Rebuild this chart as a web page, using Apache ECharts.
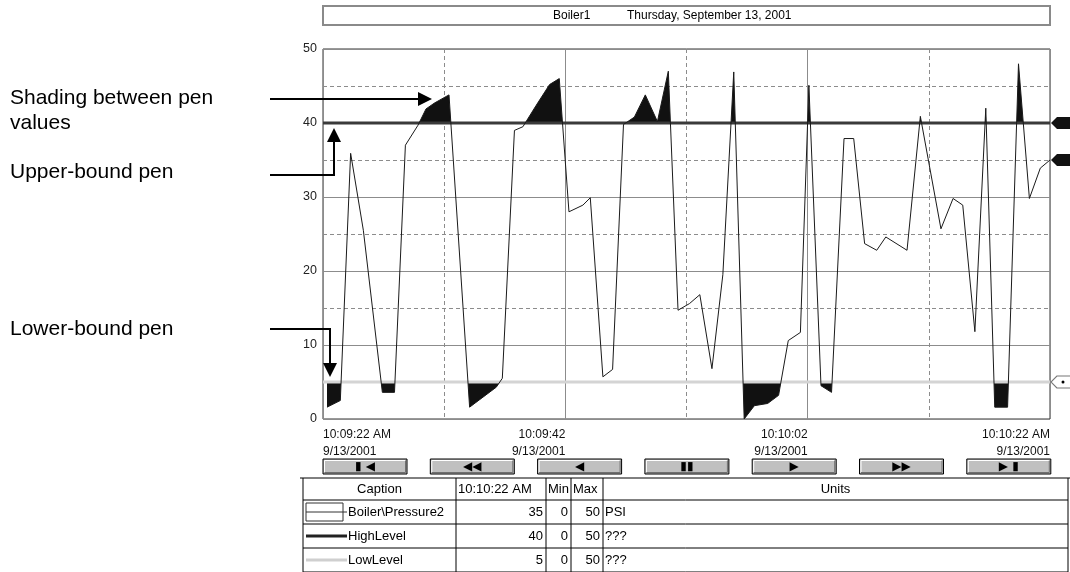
<!DOCTYPE html>
<html>
<head>
<meta charset="utf-8">
<title>Boiler1 trend</title>
<script src="https://cdn.jsdelivr.net/npm/echarts@6/dist/echarts.min.js"></script>
<style>
  html, body { margin: 0; padding: 0; background: #fff; }
  #chart { width: 1070px; height: 572px; }
</style>
</head>
<body>
<div id="chart"></div>
<script>
// seconds after 10:09:22 AM, and the Boiler\Pressure2 pen values
const sampleSeconds = [0.33, 1.43, 2.28, 3.33, 4.9, 5.9, 6.8, 7.84, 8.5, 9.2, 10.4, 12.1, 14.3, 14.8, 15.8,
    16.5, 17.6, 18.7, 19.5, 20.3, 21.45, 22.06, 23.1, 23.9, 24.8, 25.7, 26.6, 27.6, 28.5, 29.3,
    30.25, 31.1, 32.1, 33.0, 33.9, 34.76, 35.6, 36.7, 37.6, 38.4, 39.4, 40.1, 41.1, 41.97, 43.0,
    43.8, 44.7, 45.7, 46.45, 48.2, 49.3, 51.0, 52.0, 52.8, 53.8, 54.7, 55.44, 56.5, 57.4, 58.3, 59.2, 60.0];
const pressure = [1.6, 2.5, 35.9, 25.5, 3.6, 3.6, 37.0, 39.7, 41.9, 42.7, 43.8, 1.6, 4.3, 5.5, 39.0,
    39.5, 42.4, 45.2, 46.0, 28.0, 28.9, 29.9, 5.7, 6.7, 39.8, 40.8, 43.8, 40.2, 47.0, 14.7,
    15.6, 16.8, 6.8, 19.5, 46.9, 0, 1.8, 2.1, 3.2, 10.6, 11.7, 45.1, 4.5, 3.6, 37.9,
    37.9, 23.7, 22.8, 24.6, 22.8, 40.9, 25.7, 29.8, 28.9, 11.8, 42.0, 1.6, 1.6, 48.0, 29.8, 33.9, 35.0];

const penSeconds = [0, 60];
const highLevel = [40, 40];
const lowLevel = [5, 5];

const xTickLabels = ['10:09:22 AM\n9/13/2001', '10:09:42\n9/13/2001', '10:10:02\n9/13/2001', '10:10:22 AM\n9/13/2001'];

// pen legend table
const penCaptions = ['Boiler\\Pressure2', 'HighLevel', 'LowLevel'];
const penNow = [35, 40, 5];
const penMin = [0, 0, 0];
const penMax = [50, 50, 50];
const penUnits = ['PSI', '???', '???'];

const buttonGlyphs = ['\u25AE \u25C0', '\u25C0\u25C0', '\u25C0', '\u25AE\u25AE', '\u25B6', '\u25B6\u25B6', '\u25B6 \u25AE'];

const FONT = "'Liberation Sans', Arial, sans-serif";
const arrowLeft = 'path://M0,6 L6,0 L20,0 L20,12 L6,12 Z';

const zip = (xs, ys) => xs.map((x, i) => [x, ys[i]]);
const pressureData = zip(sampleSeconds, pressure);

const chart = echarts.init(document.getElementById('chart'));

// ---- static decorations (title box, notes, buttons, table) ----
const graphics = [];
const txt = (x, y, text, size, align, extra) => graphics.push({
    type: 'text', x: x, y: y, silent: true,
    style: Object.assign({ text: text, font: size + 'px ' + FONT, fill: '#000',
        textAlign: align || 'left', textVerticalAlign: 'middle' }, extra || {})
});
const line = (x1, y1, x2, y2, color, w) => graphics.push({
    type: 'line', silent: true, shape: { x1: x1, y1: y1, x2: x2, y2: y2 },
    style: { stroke: color, lineWidth: w }
});

// title box
graphics.push({ type: 'rect', shape: { x: 323, y: 6, width: 727, height: 19 },
    style: { fill: '#fff', stroke: '#8a8a8a', lineWidth: 2 } });
txt(553, 16, 'Boiler1', 12);
txt(627, 16, 'Thursday, September 13, 2001', 12);

// annotations on the left
txt(10, 98, 'Shading between pen', 21);
txt(10, 123, 'values', 21);
txt(10, 172, 'Upper-bound pen', 21);
txt(10, 329, 'Lower-bound pen', 21);
graphics.push({ type: 'polyline', shape: { points: [[270, 99], [420, 99]] }, style: { stroke: '#000', lineWidth: 2 }, z: 50 });
graphics.push({ type: 'polygon', shape: { points: [[418, 92], [432, 99], [418, 106]] }, style: { fill: '#000' }, z: 50 });
graphics.push({ type: 'polyline', shape: { points: [[270, 175], [334, 175], [334, 140]] }, style: { stroke: '#000', lineWidth: 2 }, z: 50 });
graphics.push({ type: 'polygon', shape: { points: [[327, 142], [334, 128], [341, 142]] }, style: { fill: '#000' }, z: 50 });
graphics.push({ type: 'polyline', shape: { points: [[270, 329], [330, 329], [330, 364]] }, style: { stroke: '#000', lineWidth: 2 }, z: 50 });
graphics.push({ type: 'polygon', shape: { points: [[323, 363], [330, 377], [337, 363]] }, style: { fill: '#000' }, z: 50 });

// scroll buttons
buttonGlyphs.forEach((g, i) => {
    const bx = 323 + i * 107.3, by = 459, bw = 84, bh = 15;
    graphics.push({ type: 'rect', shape: { x: bx, y: by, width: bw, height: bh },
        style: { fill: '#c0c0c0', stroke: '#000', lineWidth: 1 } });
    graphics.push({ type: 'polyline', shape: { points: [[bx + 1.5, by + bh - 1.5], [bx + 1.5, by + 1.5], [bx + bw - 1.5, by + 1.5]] },
        style: { stroke: '#fff', lineWidth: 1 } });
    graphics.push({ type: 'polyline', shape: { points: [[bx + 1.5, by + bh - 1.5], [bx + bw - 1.5, by + bh - 1.5], [bx + bw - 1.5, by + 1.5]] },
        style: { stroke: '#707070', lineWidth: 1 } });
    graphics.push({ type: 'text', x: bx + bw / 2, y: by + bh / 2 + 0.5,
        style: { text: g, font: "bold 12px 'DejaVu Sans'", fill: '#000', textAlign: 'center', textVerticalAlign: 'middle' } });
});

// pen table
const cols = [303, 456, 546, 571, 603, 1068];
const rows = [478, 500, 524, 548, 572];
line(300, rows[0], 1070, rows[0], '#000', 1);
rows.slice(1).forEach(y => line(cols[0], y, cols[5], y, '#000', 1));
cols.forEach(x => line(x, rows[0], x, rows[4], '#000', 1));
const hy = (rows[0] + rows[1]) / 2;
txt((cols[0] + cols[1]) / 2, hy, 'Caption', 13, 'center');
txt(cols[1] + 2, hy, '10:10:22 AM', 13);
txt(cols[2] + 2, hy, 'Min', 13);
txt(cols[3] + 2, hy, 'Max', 13);
txt((cols[4] + cols[5]) / 2, hy, 'Units', 13, 'center');
penCaptions.forEach((c, i) => {
    const y = (rows[i + 1] + rows[i + 2]) / 2;
    if (i === 0) {
        graphics.push({ type: 'rect', shape: { x: 306, y: y - 9, width: 37, height: 18 },
            style: { fill: 'none', stroke: '#333', lineWidth: 1 } });
        line(306, y, 347, y, '#333', 1);
    } else {
        line(306, y, 347, y, i === 1 ? '#222' : '#cfcfcf', 3);
    }
    txt(348, y, c, 13);
    txt(cols[2] - 3, y, String(penNow[i]), 13, 'right');
    txt(cols[3] - 3, y, String(penMin[i]), 13, 'right');
    txt(cols[4] - 3, y, String(penMax[i]), 13, 'right');
    txt(cols[4] + 2, y, penUnits[i], 13);
});

const solidGrid = { show: true, lineStyle: { color: '#8c8c8c', width: 1 } };
const dashGrid = { show: true, lineStyle: { color: '#8c8c8c', width: 1, type: [4, 3] } };
const hidden = { show: false };

chart.setOption({
    animation: false,
    textStyle: { fontFamily: FONT },
    grid: { left: 323, top: 49, width: 727, height: 370, show: true, borderColor: '#333', borderWidth: 1, backgroundColor: '#fff' },
    xAxis: [
        { type: 'value', min: 0, max: 60, interval: 20, axisLine: hidden, axisTick: hidden, splitLine: solidGrid,
          axisLabel: { formatter: v => xTickLabels[Math.round(v / 20)], align: 'right', alignMinLabel: 'left', alignMaxLabel: 'right',
                       fontSize: 12, lineHeight: 17, color: '#111', margin: 7 } },
        { type: 'value', min: 0, max: 60, interval: 10, axisLine: hidden, axisTick: hidden, axisLabel: hidden, splitLine: dashGrid }
    ],
    yAxis: [
        { type: 'value', min: 0, max: 50, interval: 10, axisLine: hidden, axisTick: hidden, splitLine: solidGrid,
          axisLabel: { fontSize: 12.5, color: '#222', margin: 6 } },
        { type: 'value', min: 0, max: 50, interval: 5, axisLine: hidden, axisTick: hidden, axisLabel: hidden, splitLine: dashGrid }
    ],
    visualMap: [
        { type: 'piecewise', show: false, seriesIndex: 2, dimension: 1,
          pieces: [{ gt: 40, lte: 60, color: '#111' }, { gte: -10, lte: 40, color: 'rgba(255,255,255,0)' }] },
        { type: 'piecewise', show: false, seriesIndex: 3, dimension: 1,
          pieces: [{ gte: -10, lt: 5, color: '#111' }, { gte: 5, lte: 60, color: 'rgba(255,255,255,0)' }] }
    ],
    series: [
        { name: 'LowLevel', type: 'line', data: zip(penSeconds, lowLevel), showSymbol: false, silent: true,
          lineStyle: { color: '#d4d4d4', width: 3 },
          markPoint: { silent: true, label: hidden, data: [
              { coord: [60, lowLevel[1]], symbol: arrowLeft, symbolSize: [20, 12], symbolOffset: [11, 0],
                itemStyle: { color: '#fff', borderColor: '#777', borderWidth: 1 } },
              { coord: [60, lowLevel[1]], symbol: 'circle', symbolSize: 3, symbolOffset: [13, 0], itemStyle: { color: '#000' } }
          ] } },
        { name: 'HighLevel', type: 'line', data: zip(penSeconds, highLevel), showSymbol: false, silent: true,
          lineStyle: { color: '#3a3a3a', width: 3 },
          markPoint: { silent: true, label: hidden, data: [
              { coord: [60, highLevel[1]], symbol: arrowLeft, symbolSize: [20, 12], symbolOffset: [11, 0], itemStyle: { color: '#111' } }
          ] } },
        { name: 'upperShade', type: 'line', data: pressureData, showSymbol: false, silent: true,
          lineStyle: { width: 0, opacity: 0 }, areaStyle: { origin: 40, opacity: 1 } },
        { name: 'lowerShade', type: 'line', data: pressureData, showSymbol: false, silent: true,
          lineStyle: { width: 0, opacity: 0 }, areaStyle: { origin: 5, opacity: 1 } },
        { name: 'Boiler\\Pressure2', type: 'line', data: pressureData, showSymbol: false, silent: true,
          lineStyle: { color: '#1a1a1a', width: 1 },
          markPoint: { silent: true, label: hidden, data: [
              { coord: [60, penNow[0]], symbol: arrowLeft, symbolSize: [20, 12], symbolOffset: [11, 0], itemStyle: { color: '#111' } }
          ] } }
    ],
    graphic: graphics
});
</script>
</body>
</html>
